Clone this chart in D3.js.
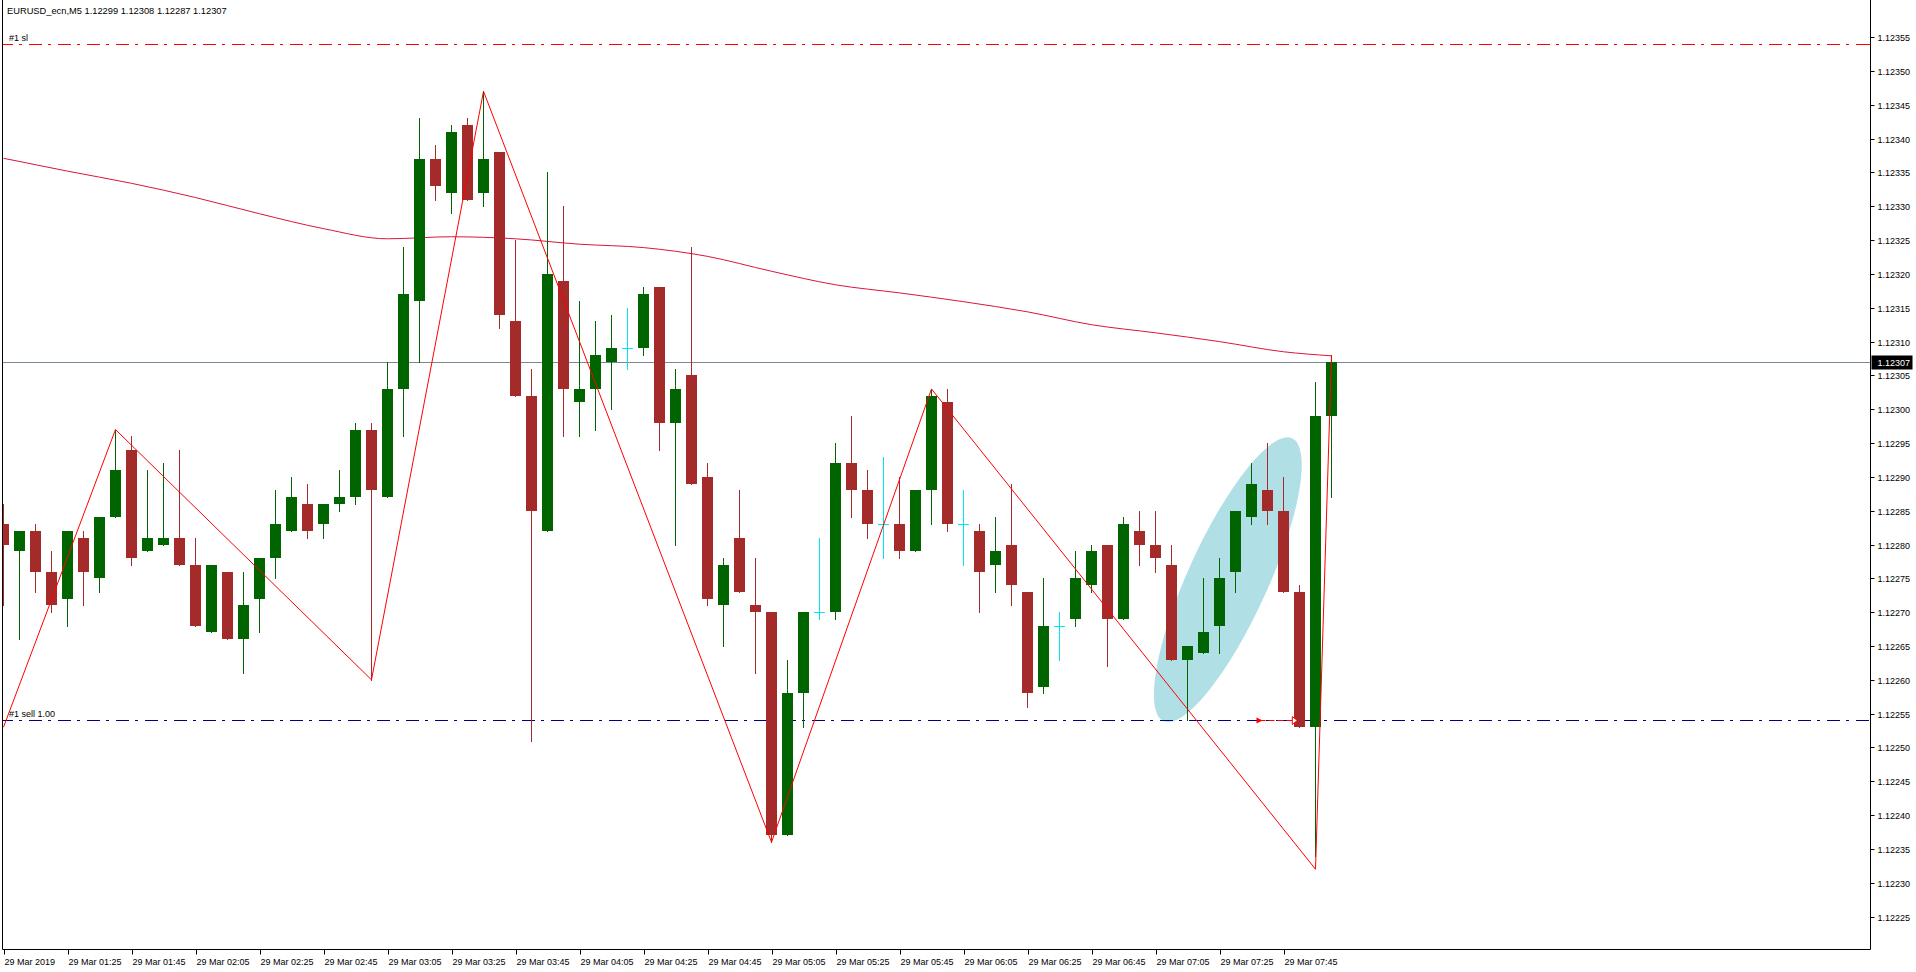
<!DOCTYPE html>
<html><head><meta charset="utf-8">
<script src="https://cdn.jsdelivr.net/npm/d3@7"></script>
<style>html,body{margin:0;padding:0;background:#fff;overflow:hidden}</style>
</head><body>
<svg id="c" width="1916" height="972"></svg>
<script>
// ---------- data ----------
const chartTitle = "EURUSD_ecn,M5  1.12299 1.12308 1.12287 1.12307";
const slLabel = "#1 sl";
const sellLabel = "#1 sell 1.00";
const slPrice = 1.12354;
const sellPrice = 1.12254;
const lastPrice = 1.12307;

const timeTickIdx = [0,4,8,12,16,20,24,28,32,36,40,44,48,52,56,60,64,68,72,76,80];
const timeLabels = ["29 Mar 2019","29 Mar 01:25","29 Mar 01:45","29 Mar 02:05","29 Mar 02:25","29 Mar 02:45",
  "29 Mar 03:05","29 Mar 03:25","29 Mar 03:45","29 Mar 04:05","29 Mar 04:25","29 Mar 04:45","29 Mar 05:05",
  "29 Mar 05:25","29 Mar 05:45","29 Mar 06:05","29 Mar 06:25","29 Mar 06:45","29 Mar 07:05","29 Mar 07:25","29 Mar 07:45"];

const priceTicks = [1.12225,1.12230,1.12235,1.12240,1.12245,1.12250,1.12255,1.12260,1.12265,1.12270,1.12275,
  1.12280,1.12285,1.12290,1.12295,1.12300,1.12305,1.12310,1.12315,1.12320,1.12325,1.12330,1.12335,1.12340,
  1.12345,1.12350,1.12355];

const openP = [1.12283,1.12279,1.12282,1.12276,1.12272,1.12281,1.12275,1.12284,1.12294,1.12279,
  1.12280,1.12281,1.12277,1.12267,1.12276,1.12266,1.12272,1.12278,1.12282,1.12286,
  1.12283,1.12286,1.12287,1.12297,1.12287,1.12303,1.12316,1.12337,1.12332,1.12342,
  1.12332,1.12338,1.12313,1.12302,1.12282,1.12319,1.12301,1.12303,1.12307,1.12309,
  1.12309,1.12318,1.12298,1.12305,1.12290,1.12271,1.12281,1.12271,1.12270,1.12237,
  1.12258,1.12270,1.12270,1.12292,1.12288,1.12283,1.12283,1.12279,1.12288,1.12301,
  1.12283,1.12282,1.12277,1.12280,1.12273,1.12259,1.12268,1.12269,1.12274,1.12280,
  1.12269,1.12282,1.12280,1.12277,1.12263,1.12264,1.12268,1.12276,1.12284,1.12288,
  1.12285,1.12273,1.12253,1.12299];
const highP = [1.12286,1.12282,1.12283,1.12279,1.12282,1.12282,1.12284,1.12297,1.12296,1.12291,
  1.12292,1.12294,1.12281,1.12277,1.12276,1.12276,1.12278,1.12288,1.12290,1.12289,
  1.12286,1.12291,1.12298,1.12298,1.12307,1.12324,1.12343,1.12339,1.12342,1.12343,
  1.12347,1.12338,1.12325,1.12306,1.12335,1.12330,1.12316,1.12313,1.12314,1.12315,
  1.12318,1.12318,1.12306,1.12324,1.12292,1.12278,1.12288,1.12278,1.12270,1.12263,
  1.12270,1.12281,1.12295,1.12299,1.12291,1.12293,1.12290,1.12288,1.12303,1.12303,
  1.12288,1.12283,1.12284,1.12289,1.12273,1.12275,1.12270,1.12279,1.12280,1.12280,
  1.12284,1.12285,1.12285,1.12280,1.12265,1.12275,1.12278,1.12285,1.12292,1.12295,
  1.12290,1.12274,1.12304,1.12308];
const lowP = [1.12271,1.12266,1.12273,1.12270,1.12268,1.12271,1.12273,1.12284,1.12277,1.12279,
  1.12280,1.12277,1.12268,1.12267,1.12266,1.12261,1.12267,1.12275,1.12282,1.12281,
  1.12281,1.12285,1.12286,1.12260,1.12287,1.12296,1.12307,1.12331,1.12329,1.12331,
  1.12330,1.12312,1.12302,1.12251,1.12282,1.12296,1.12296,1.12297,1.12300,1.12306,
  1.12308,1.12294,1.12280,1.12289,1.12271,1.12265,1.12273,1.12261,1.12236,1.12237,
  1.12253,1.12269,1.12269,1.12284,1.12281,1.12278,1.12278,1.12279,1.12283,1.12282,
  1.12277,1.12270,1.12273,1.12271,1.12256,1.12258,1.12263,1.12268,1.12273,1.12262,
  1.12269,1.12277,1.12276,1.12263,1.12254,1.12264,1.12264,1.12273,1.12283,1.12283,
  1.12273,1.12253,1.12234,1.12287];
const closeP = [1.12280,1.12282,1.12276,1.12271,1.12282,1.12276,1.12284,1.12291,1.12278,1.12281,
  1.12281,1.12277,1.12268,1.12277,1.12266,1.12271,1.12278,1.12283,1.12287,1.12282,
  1.12286,1.12287,1.12297,1.12288,1.12303,1.12317,1.12337,1.12333,1.12341,1.12331,
  1.12337,1.12314,1.12302,1.12285,1.12320,1.12303,1.12303,1.12308,1.12309,1.12309,
  1.12317,1.12298,1.12303,1.12289,1.12272,1.12277,1.12273,1.12270,1.12237,1.12258,
  1.12270,1.12270,1.12292,1.12288,1.12283,1.12283,1.12279,1.12288,1.12302,1.12283,
  1.12283,1.12276,1.12279,1.12274,1.12258,1.12268,1.12268,1.12275,1.12279,1.12269,
  1.12283,1.12280,1.12278,1.12263,1.12265,1.12267,1.12275,1.12285,1.12289,1.12285,
  1.12273,1.12253,1.12299,1.12307];

const zigIdx = [0,7,23,30,48,58,82,83];
const zigPrice = [1.12253,1.12297,1.12260,1.12347,1.12236,1.12303,1.12232,1.12308];

const maIdx = [0,4,8,12,16,20,24,28,32,36,40,44,48,52,56,60,64,68,72,76,80,83];
const maPrice = [1.123371,1.123352,1.123334,1.123313,1.123289,1.123267,1.123252,1.123255,1.123252,1.123244,
  1.123239,1.123226,1.123204,1.123184,1.123172,1.123159,1.123144,1.123125,1.123113,1.123100,1.123085,1.123079];

// ellipse (two ends of the long axis in bar index / price, plus minor/major ratio)
const ellipseEnds = [[72.5,1.122539],[80.54,1.122957]];
const ellipseRatio = 0.258;

// trade markers (bar index) on the sell level
const tradeFromIdx = 78.5, tradeToIdx = 80.8;

// ---------- layout ----------
const W = 1916, H = 972;
const plotL = 2.5, plotR = 1870.5, plotB = 949.5;
const svg = d3.select("#c");
const FONT = "'Liberation Sans', Arial, sans-serif";

const x = d3.scaleLinear().domain([0, 1]).range([3.5, 19.5]);
const y = d3.scaleLinear().domain([1.12225, 1.12355]).range([916.6, 37.2]);

svg.append("rect").attr("width", W).attr("height", H).attr("fill", "#fff");

svg.append("defs").append("clipPath").attr("id", "plot")
  .append("rect").attr("x", 3).attr("y", 0).attr("width", plotR - 3).attr("height", plotB);

const g = svg.append("g").attr("clip-path", "url(#plot)");

// ellipse
{
  const p1 = [x(ellipseEnds[0][0]), y(ellipseEnds[0][1])];
  const p2 = [x(ellipseEnds[1][0]), y(ellipseEnds[1][1])];
  const cx = (p1[0] + p2[0]) / 2, cy = (p1[1] + p2[1]) / 2;
  const len = Math.hypot(p2[0] - p1[0], p2[1] - p1[1]) / 2;
  const ang = Math.atan2(p2[1] - p1[1], p2[0] - p1[0]) * 180 / Math.PI;
  g.append("ellipse").attr("cx", 0).attr("cy", 0).attr("rx", len).attr("ry", len * ellipseRatio)
    .attr("transform", `translate(${cx},${cy}) rotate(${ang})`).attr("fill", "#b0e0e6");
}

// horizontal order lines
const dash = "13,6,3,7";
const py = p => Math.round(y(p)) + 0.5;
g.append("line").attr("x1", 0).attr("x2", plotR).attr("y1", py(slPrice)).attr("y2", py(slPrice))
  .attr("stroke", "#ff0000").attr("stroke-dasharray", dash);
g.append("line").attr("x1", 0).attr("x2", plotR).attr("y1", py(sellPrice)).attr("y2", py(sellPrice))
  .attr("stroke", "#000080").attr("stroke-dasharray", dash);
// last price line
g.append("line").attr("x1", 0).attr("x2", plotR).attr("y1", py(lastPrice)).attr("y2", py(lastPrice))
  .attr("stroke", "#778899");

// moving average
g.append("path").datum(maIdx.map((d, i) => [d, maPrice[i]]))
  .attr("d", d3.line().x(d => x(d[0])).y(d => y(d[1])).curve(d3.curveMonotoneX))
  .attr("fill", "none").attr("stroke", "#dc143c").attr("stroke-width", 1);

// candles
const bars = d3.range(openP.length).map(i => ({i, o: openP[i], h: highP[i], l: lowP[i], c: closeP[i]}));
const colorOf = d => d.c > d.o ? "#006400" : (d.c < d.o ? "#a52a2a" : "#00e5ee");
const cg = g.append("g");
bars.forEach(d => {
  const cx = x(d.i);
  const col = colorOf(d);
  const yh = Math.round(y(d.h)), yl = Math.round(y(d.l));
  cg.append("rect").attr("x", cx - 0.5).attr("y", yh).attr("width", 1).attr("height", Math.max(1, yl - yh + 1)).attr("fill", col);
  const yt = Math.round(y(Math.max(d.o, d.c))), yb = Math.round(y(Math.min(d.o, d.c)));
  cg.append("rect").attr("x", cx - 5.5).attr("y", yt).attr("width", 11).attr("height", Math.max(1, yb - yt)).attr("fill", col);
});

// zigzag
g.append("path").datum(zigIdx.map((d, i) => [d, zigPrice[i]]))
  .attr("d", d3.line().x(d => x(d[0])).y(d => y(d[1])))
  .attr("fill", "none").attr("stroke", "#ff0000").attr("stroke-width", 1);

// trade markers
{
  const ys = py(sellPrice);
  const xa = x(tradeFromIdx), xb = x(tradeToIdx);
  g.append("line").attr("x1", xa).attr("x2", xb).attr("y1", ys).attr("y2", ys).attr("stroke", "#ff0000").attr("stroke-dasharray", "6,3");
  g.append("path").attr("d", `M${xa - 3},${ys - 3}L${xa + 3},${ys}L${xa - 3},${ys + 3}Z`).attr("fill", "#ff0000");
  g.append("path").attr("d", `M${xb - 4},${ys - 4}L${xb + 1},${ys}L${xb - 4},${ys + 4}Z`).attr("fill", "#fff").attr("stroke", "#ff0000");
}

// labels for order lines
svg.append("text").attr("x", 9).attr("y", py(slPrice) - 3.5).text(slLabel)
  .attr("font-family", FONT).attr("font-size", 9).attr("fill", "#000");
svg.append("text").attr("x", 9).attr("y", py(sellPrice) - 3.5).text(sellLabel)
  .attr("font-family", FONT).attr("font-size", 9).attr("fill", "#000");

// header
svg.append("text").attr("x", 7).attr("y", 14).text(chartTitle)
  .attr("font-family", FONT).attr("font-size", 9.3).attr("fill", "#000");

// frame
svg.append("line").attr("x1", plotL).attr("x2", plotL).attr("y1", 0).attr("y2", plotB).attr("stroke", "#000");
svg.append("line").attr("x1", plotR).attr("x2", plotR).attr("y1", 0).attr("y2", plotB).attr("stroke", "#000");
svg.append("line").attr("x1", plotL).attr("x2", plotR).attr("y1", plotB).attr("y2", plotB).attr("stroke", "#000");

// right price axis
const ya = svg.append("g");
priceTicks.forEach(p => {
  const yy = py(p);
  ya.append("line").attr("x1", plotR).attr("x2", plotR + 4).attr("y1", yy).attr("y2", yy).attr("stroke", "#000");
  ya.append("text").attr("x", plotR + 7).attr("y", yy).attr("dy", "0.35em").text(p.toFixed(5))
    .attr("font-family", FONT).attr("font-size", 9).attr("fill", "#000");
});
// last price box
{
  const yy = py(lastPrice);
  ya.append("rect").attr("x", plotR + 1).attr("y", yy - 7).attr("width", 41).attr("height", 14).attr("fill", "#000");
  ya.append("text").attr("x", plotR + 7).attr("y", yy).attr("dy", "0.35em").text(lastPrice.toFixed(5))
    .attr("font-family", FONT).attr("font-size", 9).attr("fill", "#fff");
  ya.append("line").attr("x1", plotR - 3).attr("x2", plotR).attr("y1", py(slPrice)).attr("y2", py(slPrice)).attr("stroke", "#ff0000");
}

// bottom time axis
const xa = svg.append("g");
timeTickIdx.forEach((t, i) => {
  const xx = Math.round(x(t)) + 0.5;
  xa.append("line").attr("x1", xx).attr("x2", xx).attr("y1", plotB).attr("y2", plotB + 5).attr("stroke", "#000");
  xa.append("text").attr("x", xx).attr("y", plotB + 15).text(timeLabels[i])
    .attr("font-family", FONT).attr("font-size", 9).attr("fill", "#000");
});
</script>
</body></html>
